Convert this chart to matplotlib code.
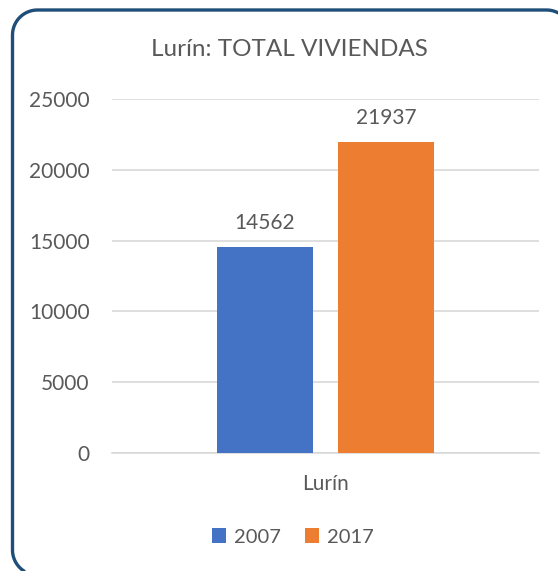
import numpy as np
import matplotlib
matplotlib.use('Agg')
import matplotlib.pyplot as plt
from matplotlib.patches import Patch
from matplotlib.lines import Line2D
from matplotlib.transforms import IdentityTransform

plt.rcParams['font.family'] = ['Lato', 'DejaVu Sans']

# datos
categorias = ['Lurín']
anios = ['2007', '2017']
viviendas = [14562, 21937]
colores = ['#4472C4', '#ED7D31']
titulo = 'Lurín: TOTAL VIVIENDAS'
yticks = [0, 5000, 10000, 15000, 20000, 25000]

texto = '#595959'
W, H = 558, 571

fig = plt.figure(figsize=(W / 100, H / 100), dpi=100)


# marco redondeado: solo la parte visible (borde izq., sup. y esquinas)
def marco_visible(izq, sup, der, inf, r):
    pts = []
    t = np.linspace(np.pi * 1.5, np.pi, 30)
    pts += list(zip(izq + r + r * np.cos(t), inf + r + r * np.sin(t)))
    t = np.linspace(np.pi, np.pi / 2, 30)
    pts += list(zip(izq + r + r * np.cos(t), sup - r + r * np.sin(t)))
    t = np.linspace(np.pi / 2, 0, 30)
    pts += list(zip(der - r + r * np.cos(t), sup - r + r * np.sin(t)))
    pts = [(px, py) for px, py in pts if 0 <= px <= W and 0 <= py <= H]
    xs, ys = zip(*pts)
    return xs, ys


mx, my = marco_visible(12.5, H - 10, 571.5, H - 575, 25)
fig.add_artist(Line2D(mx, my, transform=IdentityTransform(), color='#1F4E79',
                      linewidth=2.4, solid_joinstyle='round', zorder=5))

ax = fig.add_axes([112 / W, 1 - 453 / H, 427 / W, 354 / H])
ax.set_facecolor('none')

x = np.arange(len(categorias))
ancho = 0.225
desp = 0.142
for i, (anio, val, c) in enumerate(zip(anios, viviendas, colores)):
    pos = x + (i - 0.5) * 2 * desp
    ax.bar(pos, [val], width=ancho, color=c, zorder=3)
    ax.text(pos[0], val + 1000, str(val), ha='center', va='bottom',
            fontsize=15, color=texto)

ax.set_xlim(-0.5, 0.5)
ax.set_ylim(0, 25000)
ax.set_yticks(yticks)
ax.set_yticklabels([str(t) for t in yticks])
ax.set_xticks(x)
ax.set_xticklabels(categorias)
ax.yaxis.grid(True, color='#D9D9D9', linewidth=1.2, zorder=0)
for s in ['top', 'right', 'left']:
    ax.spines[s].set_visible(False)
ax.spines['bottom'].set_color('#D9D9D9')
ax.spines['bottom'].set_linewidth(1.2)
ax.tick_params(axis='both', length=0, labelsize=15, colors=texto)
ax.tick_params(axis='y', pad=16)
ax.tick_params(axis='x', pad=15)

fig.text(289 / W, 1 - 50 / H, titulo, ha='center', va='center',
         fontsize=17.5, color=texto)

handles = [Patch(facecolor=c, label=a) for a, c in zip(anios, colores)]
fig.legend(handles=handles, loc='center', bbox_to_anchor=(293 / W, 1 - 537 / H),
           ncol=2, frameon=False, fontsize=14.5, labelcolor=texto,
           handlelength=0.7, handleheight=0.7, handletextpad=0.4,
           columnspacing=1.2)

fig.savefig('out.png', dpi=100)
